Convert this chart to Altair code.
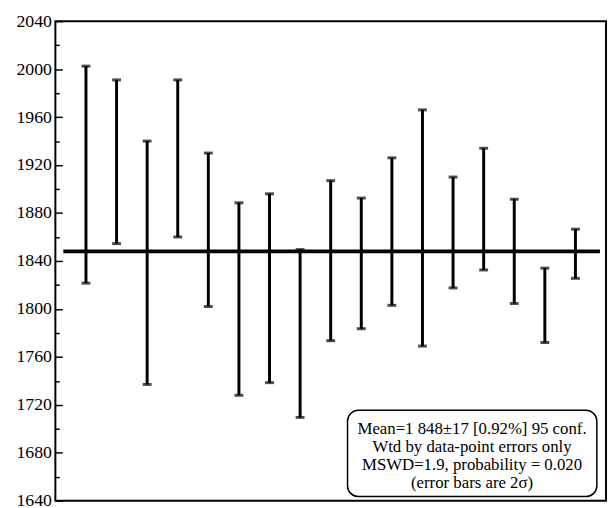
import altair as alt
import pandas as pd

# Data
idx = list(range(1, 18))
upper = [2002.5, 1991, 1940, 1991, 1930, 1888.5, 1896, 1849.5, 1907, 1892.5, 1926, 1966, 1910, 1934, 1891.5, 1834, 1866.5]
lower = [1821.5, 1854.5, 1737, 1860, 1802, 1728, 1738.5, 1709.5, 1773.5, 1783.5, 1803, 1769, 1817.5, 1832.5, 1804.5, 1772, 1825.5]
mean_value = [1848]
mean_span = [0.26, 17.8]
major_ticks = list(range(1640, 2041, 40))
minor_ticks = list(range(1660, 2041, 40))
box_x = [9.55, 17.7]
box_y = [1715.5, 1643.5]
note_lines = ["Mean=1 848\u00b117 [0.92%] 95 conf.",
              "Wtd by data-point errors only",
              "MSWD=1.9,  probability = 0.020",
              "(error bars are 2\u03c3)"]
note_y = [1699.5, 1684.5, 1669.5, 1654.5]
note_x = [13.62]

W, H = 558, 486
FONT = "'Liberation Serif', 'Times New Roman', Times, serif"

df = pd.DataFrame({"i": idx, "hi": upper, "lo": lower})
xs = alt.Scale(domain=[0, 18], nice=False)
ys = alt.Scale(domain=[1640, 2040], nice=False, zero=False)

bars = alt.Chart(df).mark_rule(color="black", strokeWidth=3).encode(
    x=alt.X("i:Q", scale=xs, axis=None),
    y=alt.Y("hi:Q", scale=ys, axis=alt.Axis(values=major_ticks, orient="left", ticks=False,
                                            domain=False, grid=False, labelPadding=4, format="d",
                                            labelFont=FONT, labelFontSize=18, labelColor="black",
                                            title=None)),
    y2="lo:Q",
)

cap_top = alt.Chart(df).mark_tick(color="black", orient="horizontal", size=9, thickness=3).encode(
    x=alt.X("i:Q", scale=xs, axis=None),
    y=alt.Y("hi:Q", scale=ys, axis=alt.Axis(values=major_ticks, orient="right", offset=-W,
                                            tickSize=7, tickWidth=1.5, tickColor="black",
                                            labels=False, domain=False, grid=False, title=None)),
)

cap_bot = alt.Chart(df).mark_tick(color="black", orient="horizontal", size=9, thickness=3).encode(
    x=alt.X("i:Q", scale=xs, axis=None),
    y=alt.Y("lo:Q", scale=ys, axis=alt.Axis(values=minor_ticks, orient="right", offset=-W,
                                            tickSize=4, tickWidth=1.5, tickColor="black",
                                            labels=False, domain=False, grid=False, title=None)),
)

mean_df = pd.DataFrame({"x1": [mean_span[0]], "x2": [mean_span[1]], "m": mean_value})
mean_line = alt.Chart(mean_df).mark_rule(color="black", strokeWidth=4).encode(
    x=alt.X("x1:Q", scale=xs, axis=None), x2="x2:Q",
    y=alt.Y("m:Q", scale=ys, axis=None),
)

box_df = pd.DataFrame({"x1": [box_x[0]], "x2": [box_x[1]], "y1": [box_y[0]], "y2": [box_y[1]]})
box = alt.Chart(box_df).mark_rect(fill="white", stroke="black", strokeWidth=1.5, cornerRadius=11).encode(
    x=alt.X("x1:Q", scale=xs, axis=None), x2="x2:Q",
    y=alt.Y("y1:Q", scale=ys, axis=None), y2="y2:Q",
)

note_df = pd.DataFrame({"t": note_lines, "y": note_y, "x": note_x * len(note_lines)})
notes = alt.Chart(note_df).mark_text(font=FONT, fontSize=17, color="black", align="center",
                                     baseline="middle").encode(
    x=alt.X("x:Q", scale=xs, axis=None),
    y=alt.Y("y:Q", scale=ys, axis=None),
    text="t:N",
)

chart = alt.layer(bars, cap_top, cap_bot, mean_line, box, notes).resolve_axis(
    y="independent"
).properties(
    width=W, height=H,
    autosize=alt.AutoSizeParams(type="none"),
    padding={"left": 48, "top": 10, "right": 2, "bottom": 4},
    background="white",
).configure_view(stroke="black", strokeWidth=2).configure_axis(
    labelFont=FONT, labelFontSize=18, labelColor="black", format="d"
).configure_text(font=FONT)

chart.save("out.html", embed_options={"renderer": "svg", "actions": False})
